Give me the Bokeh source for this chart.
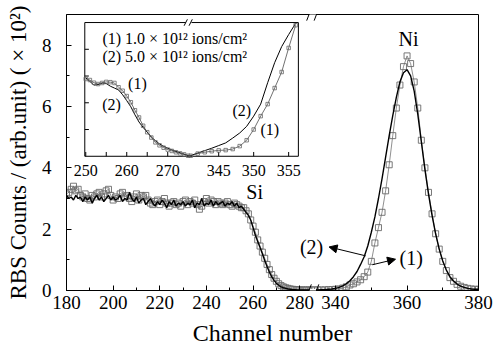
from bokeh.plotting import figure
from bokeh.models import (Range1d, FixedTicker, CustomJSTickFormatter, Arrow,
                          NormalHead, Label)
from bokeh.embed import file_html
from bokeh.resources import INLINE
from bokeh.core.properties import value

# ---------------- data ----------------
si_channels = list(range(180, 286))
si_counts_1 = [3.15, 3.2, 3.3, 3.4, 3.25, 3.3, 3.1, 3.05, 3.15, 3.0,
               2.95, 3.1, 3.05, 3.15, 3.2, 3.05, 3.15, 3.25, 3.3, 3.1,
               2.95, 3.05, 3.0, 3.15, 3.2, 3.05, 3.1, 3.0, 2.9, 3.05,
               3.15, 2.95, 3.1, 3.05, 3.1, 2.95, 2.85, 2.8, 2.9, 2.95,
               2.8, 2.9, 3.0, 2.85, 2.75, 2.85, 2.9, 2.8, 2.85, 2.75,
               2.9, 2.95, 2.8, 2.9, 2.85, 2.95, 2.8, 2.65, 2.75, 2.9,
               3.0, 2.85, 2.95, 2.9, 2.8, 2.9, 2.85, 2.8, 2.85, 2.9,
               2.8, 2.75, 2.85, 2.8, 2.75, 2.7, 2.7, 2.6, 2.5, 2.3,
               2.1, 1.9, 1.65, 1.45, 1.25, 1.05, 0.85, 0.68, 0.52, 0.4,
               0.3, 0.22, 0.16, 0.12, 0.09, 0.07, 0.05, 0.04, 0.03, 0.03,
               0.02, 0.02, 0.02, 0.02, 0.02, 0.02]
si_counts_2 = [3.1, 3.0, 3.05, 2.95, 3.1, 3.0, 3.05, 2.9, 3.05, 2.95,
               3.05, 2.85, 3.0, 3.1, 2.95, 3.05, 2.9, 3.0, 3.1, 2.95,
               3.05, 2.95, 3.0, 3.1, 2.9, 3.0, 2.95, 3.2, 3.0, 2.9,
               3.05, 2.85, 2.95, 3.0, 2.8, 2.9, 3.0, 2.85, 2.75, 2.9,
               2.8, 2.95, 2.85, 2.7, 2.9, 2.8, 2.95, 2.75, 2.85, 2.8,
               2.9, 2.75, 2.85, 2.8, 2.95, 2.7, 2.85, 2.8, 3.0, 2.75,
               2.85, 2.8, 2.95, 2.75, 2.9, 2.8, 2.85, 2.9, 2.75, 2.85,
               2.8, 2.9, 2.75, 2.85, 2.7, 2.75, 2.65, 2.55, 2.45, 2.3,
               2.05, 1.8, 1.6, 1.4, 1.2, 0.98, 0.78, 0.6, 0.45, 0.33,
               0.24, 0.17, 0.12, 0.09, 0.07, 0.05, 0.04, 0.03, 0.03, 0.02,
               0.02, 0.02, 0.02, 0.02, 0.02, 0.02]

ni_channels = list(range(334, 381))
ni_counts_1 = [0.02, 0.02, 0.02, 0.02, 0.03, 0.03, 0.04, 0.05, 0.08, 0.12,
               0.18, 0.22, 0.28, 0.35, 0.45, 0.6, 0.95, 1.55, 2.05, 2.55,
               3.25, 4.1, 5.05, 5.95, 6.7, 7.3, 7.65, 7.4, 6.8, 5.95,
               4.9, 4.0, 3.2, 2.5, 1.85, 1.35, 0.95, 0.65, 0.42, 0.3,
               0.2, 0.14, 0.1, 0.07, 0.05, 0.04, 0.04]
ni_counts_2 = [0.02, 0.02, 0.03, 0.03, 0.04, 0.05, 0.07, 0.1, 0.15, 0.22,
               0.32, 0.45, 0.62, 0.85, 1.1, 1.45, 1.9, 2.4, 3.0, 3.65,
               4.35, 5.05, 5.7, 6.3, 6.8, 7.1, 7.2, 7.0, 6.5, 5.75,
               4.85, 3.95, 3.15, 2.45, 1.85, 1.35, 0.96, 0.67, 0.45, 0.31,
               0.21, 0.14, 0.1, 0.07, 0.05, 0.04, 0.04]

x_major = [180, 200, 220, 240, 260, 280, 340, 360, 380]
x_minor = [190, 210, 230, 250, 270, 350, 370]
y_major = [0, 2, 4, 6, 8]
y_minor = [1, 3, 5, 7]

# inset (zoom of the two edges)
inset_ch_left = list(range(250, 276))
inset_1_left = [2.89, 2.85, 2.75, 2.7, 2.74, 2.78, 2.77, 2.74, 2.58, 2.45,
                2.25, 2.02, 1.72, 1.45, 1.14, 0.9, 0.7, 0.52, 0.41, 0.32,
                0.25, 0.2, 0.15, 0.11, 0.07, 0.02]
inset_2_left = [2.93, 2.8, 2.66, 2.68, 2.74, 2.72, 2.62, 2.55, 2.48, 2.3,
                2.08, 1.85, 1.55, 1.28, 1.08, 0.9, 0.72, 0.58, 0.46, 0.37,
                0.3, 0.24, 0.18, 0.13, 0.08, 0.03]
inset_ch_right = list(range(341, 357))
inset_1_right = [0.02, 0.1, 0.15, 0.19, 0.22, 0.23, 0.27, 0.38, 0.6, 1.0,
                 1.5, 1.95, 2.55, 3.15, 4.05, 4.9]
inset_2_right = [0.03, 0.12, 0.21, 0.3, 0.4, 0.5, 0.68, 0.87, 1.12, 1.5,
                 1.95, 2.75, 3.5, 4.1, 4.55, 4.97]
inset_ticks_labeled = [250, 260, 270, 345, 350, 355]
inset_ticks_plain = [255, 265]
inset_yticks = [1, 2, 3, 4]

legend_lines = ["(1) 1.0 \u00d7 10\u00b9\u00b2 ions/cm\u00b2",
                "(2) 5.0 \u00d7 10\u00b9\u00b2 ions/cm\u00b2"]

# ---------------- broken-axis transforms ----------------
BL, BR, K = 285.6, 333.6, 1.532          # main axis break
def to_u(ch):
    return ch if ch <= BL else BL + (ch - BR) * K

IBL, IBR, KI = 275.1, 340.7, 1.707       # inset axis break
def to_v(ch):
    return ch if ch <= IBL else IBL + (ch - IBR) * KI

FONT = "Liberation Serif"

p = figure(width=494, height=350, output_backend="svg", toolbar_location=None,
           x_range=Range1d(180, to_u(380)), y_range=Range1d(0, 9),
           min_border_left=66, min_border_right=16, min_border_top=14,
           min_border_bottom=60)
p.grid.visible = False
p.outline_line_color = "black"
p.outline_line_width = 1
p.background_fill_color = "white"
p.border_fill_color = "white"

p.xaxis.ticker = FixedTicker(ticks=[to_u(t) for t in x_major],
                             minor_ticks=[to_u(t) for t in x_minor])
p.xaxis.formatter = CustomJSTickFormatter(args=dict(bl=BL, br=BR, k=K), code="""
    const ch = tick <= bl + 1e-6 ? tick : br + (tick - bl) / k;
    return Math.round(ch).toString();
""")
p.yaxis.ticker = FixedTicker(ticks=y_major, minor_ticks=y_minor)

for ax in (p.xaxis[0], p.yaxis[0]):
    ax.major_tick_in = 5
    ax.major_tick_out = 0
    ax.minor_tick_in = 3
    ax.minor_tick_out = 0
    ax.axis_line_color = "black"
    ax.major_tick_line_color = "black"
    ax.minor_tick_line_color = "black"
    ax.major_label_text_font = FONT
    ax.major_label_text_font_size = "19px"
    ax.major_label_text_color = "black"
    ax.axis_label_text_font = FONT
    ax.axis_label_text_font_style = "normal"
    ax.axis_label_text_color = "black"
    ax.axis_label_text_font_size = "23px"

p.xaxis.axis_label = "Channel number"
p.xaxis.major_label_standoff = 5
p.xaxis.axis_label_standoff = 8
p.xaxis.axis_label_text_font_size = "24px"
p.yaxis.axis_label = "RBS Counts / (arb.unit) ( \u00d7 10\u00b2)"
p.yaxis.major_label_standoff = 15
p.yaxis.axis_label_standoff = 8

# ---------------- main spectra ----------------
ch_all = si_channels + ni_channels
c1_all = si_counts_1 + ni_counts_1
c2_all = si_counts_2 + ni_counts_2
u_all = [to_u(c) for c in ch_all]

p.line(u_all, c1_all, line_color="#444444", line_width=0.6)
p.scatter(u_all, c1_all, marker="square", size=6, fill_color=None,
          line_color="#6a6a6a", line_width=0.9)
p.line(u_all, c2_all, line_color="black", line_width=1.4)

# ---------------- labels and arrows ----------------
def add_label(x, y, text, size):
    p.add_layout(Label(x=x, y=y, text=text, text_align="center",
                       text_baseline="middle", text_font=FONT,
                       text_font_size=size, text_color="black"))

add_label(260.7, 3.2, "Si", "20px")
add_label(326.7, 8.21, "Ni", "20px")
add_label(285.1, 1.43, "(2)", "20px")
add_label(327.8, 1.05, "(1)", "20px")
p.add_layout(Arrow(end=NormalHead(size=8, fill_color="black", line_color="black"),
                   x_start=308.3, y_start=1.13, x_end=292.6, y_end=1.42,
                   line_color="black", line_width=1))
p.add_layout(Arrow(end=NormalHead(size=8, fill_color="black", line_color="black"),
                   x_start=311.2, y_start=0.84, x_end=321.1, y_end=1.02,
                   line_color="black", line_width=1))

# axis break marks
for yb in (0, 9):
    p.add_layout(Arrow(end=None, x_start=BL - 1.4, y_start=yb, x_end=BL + 1.4,
                       y_end=yb, line_color="white", line_width=3))
    for c in (BL - 1.6, BL + 1.6):
        p.add_layout(Arrow(end=None, x_start=c - 1.0, y_start=yb - 0.2,
                           x_end=c + 1.0, y_end=yb + 0.2,
                           line_color="black", line_width=1))

# ---------------- inset ----------------
IX0, IX1 = 249.76, to_v(356.39)
ins = p.subplot(x_source=Range1d(IX0, IX1), y_source=Range1d(0, 5),
                x_target=Range1d(187.84, 279.44), y_target=Range1d(4.377, 8.738))
ins.quad(left=[IX0], right=[IX1], bottom=[0], top=[5], fill_color="white",
         line_color="black", line_width=1)

tick_x = [to_v(t) for t in inset_ticks_labeled + inset_ticks_plain]
ins.segment(x0=tick_x, y0=[0] * len(tick_x), x1=tick_x, y1=[0.16] * len(tick_x),
            line_color="black", line_width=1)
ins.segment(x0=[IX0] * 4, y0=inset_yticks, x1=[IX0 + 1.0] * 4, y1=inset_yticks,
            line_color="black", line_width=1)
ins.text(x=[to_v(t) for t in inset_ticks_labeled], y=[-0.52] * 6,
         text=[str(t) for t in inset_ticks_labeled], text_align="center",
         text_baseline="middle", text_font=value(FONT), text_font_size="16px",
         text_color="black")

iv_all = [to_v(c) for c in inset_ch_left + inset_ch_right]
i1_all = inset_1_left + inset_1_right
i2_all = inset_2_left + inset_2_right
ins.line(iv_all, i2_all, line_color="black", line_width=1)
ins.line(iv_all, i1_all, line_color="#333333", line_width=0.7)
ins.scatter(iv_all, i1_all, marker="square", size=3.5, fill_color=None,
            line_color="#666666", line_width=0.8)

# inset break mark
ins.segment(x0=[IBL - 0.7], y0=[5], x1=[IBL + 0.7], y1=[5],
            line_color="white", line_width=3)
ins.segment(x0=[IBL - 1.1, IBL + 0.1], y0=[4.88, 4.88],
            x1=[IBL - 0.3, IBL + 0.9], y1=[5.12, 5.12],
            line_color="black", line_width=1)

ins.text(x=[IX0 + 4.3] * 2, y=[4.4, 3.72],
         text=legend_lines, text_align="left", text_baseline="middle",
         text_font=value(FONT), text_font_size="16px", text_color="black")
ins.text(x=[262.6, 256.3, to_v(348.3), to_v(352.3)], y=[2.71, 1.95, 1.71, 1.01],
         text=["(1)", "(2)", "(2)", "(1)"], text_align="center",
         text_baseline="middle", text_font=value(FONT), text_font_size="16px",
         text_color="black")

open("out.html", "w").write(file_html(p, INLINE))
